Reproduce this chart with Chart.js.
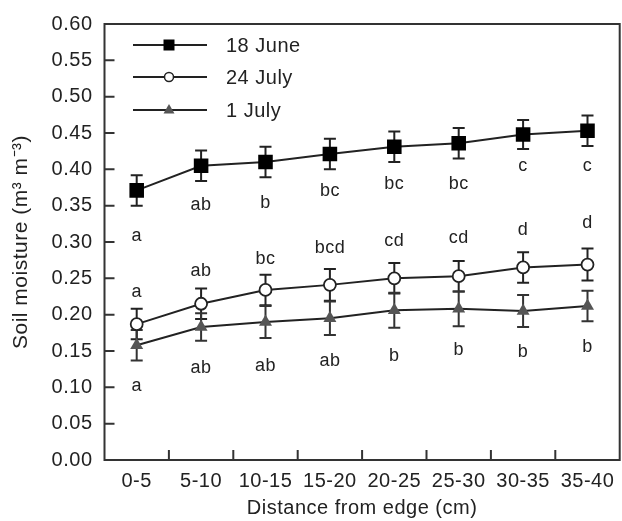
<!DOCTYPE html>
<html>
<head>
<meta charset="utf-8">
<script src="https://cdn.jsdelivr.net/npm/chart.js@4/dist/chart.umd.min.js"></script>
<style>
  html, body { margin: 0; padding: 0; background: #fff; overflow: hidden; }
  canvas { display: block; }
</style>
</head>
<body>
<canvas id="chart" width="630" height="521"></canvas>
<script>
// ---- data ----
const categories = ['0-5', '5-10', '10-15', '15-20', '20-25', '25-30', '30-35', '35-40'];

const june18    = [0.371, 0.405, 0.410, 0.421, 0.431, 0.436, 0.448, 0.453];
const june18Err = [0.021, 0.021, 0.021, 0.021, 0.021, 0.021, 0.020, 0.021];
const july24    = [0.187, 0.215, 0.234, 0.241, 0.250, 0.253, 0.265, 0.269];
const july24Err = [0.021, 0.021, 0.021, 0.022, 0.021, 0.021, 0.021, 0.022];
const july1     = [0.158, 0.183, 0.190, 0.195, 0.206, 0.208, 0.205, 0.212];
const july1Err  = [0.021, 0.019, 0.022, 0.023, 0.024, 0.024, 0.022, 0.021];

// significance letters and the height (in m3 m-3) where each is printed
const june18Letters  = ['a', 'ab', 'b', 'bc', 'bc', 'bc', 'c', 'c'];
const june18LetterY  = [0.308, 0.351, 0.353, 0.370, 0.380, 0.380, 0.404, 0.404];
const july24Letters  = ['a', 'ab', 'bc', 'bcd', 'cd', 'cd', 'd', 'd'];
const july24LetterY  = [0.231, 0.260, 0.276, 0.292, 0.302, 0.306, 0.316, 0.326];
const july1Letters   = ['a', 'ab', 'ab', 'ab', 'b', 'b', 'b', 'b'];
const july1LetterY   = [0.102, 0.126, 0.130, 0.136, 0.143, 0.151, 0.148, 0.155];

const INK = '#222';
const FONT = 'Liberation Sans, Arial, Helvetica, sans-serif';
const SPACING = '0.5px';

const series = [
  { label: '18 June', data: june18, err: june18Err, letters: june18Letters, letterY: june18LetterY,
    style: 'rect', radius: 10.3, fill: '#000', stroke: '#000' },
  { label: '24 July', data: july24, err: july24Err, letters: july24Letters, letterY: july24LetterY,
    style: 'circle', radius: 6, fill: '#fff', stroke: INK },
  { label: '1 July', data: july1, err: july1Err, letters: july1Letters, letterY: july1LetterY,
    style: 'triangle', radius: 7.5, fill: '#555', stroke: '#555' }
];

// canvas text a bit wider, like the original lettering
const spacing = {
  id: 'spacing',
  beforeLayout(chart) { chart.ctx.letterSpacing = SPACING; },
  beforeDraw(chart) { chart.ctx.letterSpacing = SPACING; }
};

// frame + inward tick marks
const frame = {
  id: 'frame',
  afterDraw(chart) {
    const { ctx, chartArea: a, scales: { x, y } } = chart;
    ctx.save();
    ctx.strokeStyle = '#333';
    ctx.lineWidth = 2;
    ctx.strokeRect(a.left, a.top, a.right - a.left, a.bottom - a.top);
    ctx.beginPath();
    y.ticks.forEach(t => {
      const py = y.getPixelForValue(t.value);
      ctx.moveTo(a.left, py);
      ctx.lineTo(a.left + 10, py);
    });
    for (let i = 1; i < categories.length; i++) {
      const px = (x.getPixelForValue(i - 1) + x.getPixelForValue(i)) / 2;
      ctx.moveTo(px, a.bottom);
      ctx.lineTo(px, a.bottom - 10);
    }
    ctx.stroke();
    ctx.restore();
  }
};

// error bars under the markers
const errorBars = {
  id: 'errorBars',
  beforeDatasetsDraw(chart) {
    const { ctx, scales: { x, y } } = chart;
    ctx.save();
    ctx.lineWidth = 2;
    series.forEach(s => {
      ctx.strokeStyle = s.style === 'triangle' ? '#333' : INK;
      s.data.forEach((v, i) => {
        const px = x.getPixelForValue(i);
        const top = y.getPixelForValue(v + s.err[i]);
        const bot = y.getPixelForValue(v - s.err[i]);
        ctx.beginPath();
        ctx.moveTo(px, top); ctx.lineTo(px, bot);
        ctx.moveTo(px - 6, top); ctx.lineTo(px + 6, top);
        ctx.moveTo(px - 6, bot); ctx.lineTo(px + 6, bot);
        ctx.stroke();
      });
    });
    ctx.restore();
  }
};

// letters + legend box
const annotations = {
  id: 'annotations',
  afterDatasetsDraw(chart) {
    const { ctx, scales: { x, y } } = chart;
    ctx.save();
    ctx.letterSpacing = SPACING;
    ctx.fillStyle = INK;
    ctx.textAlign = 'center';
    ctx.textBaseline = 'middle';
    ctx.font = '18px ' + FONT;
    series.forEach(s => {
      s.letters.forEach((t, i) => {
        ctx.fillText(t, x.getPixelForValue(i), y.getPixelForValue(s.letterY[i]));
      });
    });

    // legend
    const rows = [45, 77, 110];
    ctx.font = '20px ' + FONT;
    ctx.textAlign = 'left';
    series.forEach((s, k) => {
      const ly = rows[k];
      ctx.strokeStyle = INK;
      ctx.lineWidth = 2;
      ctx.beginPath();
      ctx.moveTo(133, ly); ctx.lineTo(207, ly);
      ctx.stroke();
      ctx.fillStyle = s.fill;
      ctx.strokeStyle = s.stroke;
      ctx.lineWidth = 1.5;
      ctx.beginPath();
      if (s.style === 'rect') {
        ctx.rect(169 - 5.5, ly - 5.5, 11, 11);
        ctx.fill();
      } else if (s.style === 'circle') {
        ctx.arc(169, ly, 4.5, 0, Math.PI * 2);
        ctx.fill(); ctx.stroke();
      } else {
        ctx.moveTo(169, ly - 6);
        ctx.lineTo(174.5, ly + 3.5);
        ctx.lineTo(163.5, ly + 3.5);
        ctx.closePath();
        ctx.fill();
      }
      ctx.fillStyle = INK;
      ctx.fillText(s.label, 226, ly + 1);
    });
    ctx.restore();
  }
};

const tickFont = { family: FONT, size: 20 };

new Chart(document.getElementById('chart'), {
  type: 'line',
  data: {
    labels: categories,
    datasets: series.map(s => ({
      label: s.label,
      data: s.data,
      borderColor: INK,
      borderWidth: 2,
      tension: 0,
      pointStyle: s.style,
      pointRadius: s.radius,
      pointBackgroundColor: s.fill,
      pointBorderColor: s.stroke,
      pointBorderWidth: s.style === 'circle' ? 1.8 : 0
    }))
  },
  options: {
    responsive: false,
    animation: false,
    layout: { padding: { top: 18, right: 3, left: 0, bottom: 0 } },
    plugins: { legend: { display: false }, tooltip: { enabled: false } },
    scales: {
      x: {
        offset: true,
        grid: { display: false, drawTicks: false },
        border: { display: false },
        ticks: { font: tickFont, color: INK, padding: 9, maxRotation: 0, autoSkip: false },
        title: { display: true, text: 'Distance from edge (cm)', font: tickFont, color: INK,
                 padding: { top: 0, bottom: 1 } },
        afterFit(s) { s.height = 61; }
      },
      y: {
        min: 0,
        max: 0.6,
        grid: { display: false, drawTicks: false },
        border: { display: false },
        ticks: { stepSize: 0.05, font: tickFont, color: INK, padding: 12,
                 callback: v => Number(v).toFixed(2) },
        title: { display: true, text: 'Soil moisture (m³ m⁻³)', font: { family: FONT, size: 21 },
                 color: INK, padding: { top: 9, bottom: 0 } },
        afterFit(s) { s.width = 104.5; }
      }
    }
  },
  plugins: [spacing, errorBars, annotations, frame]
});
</script>
</body>
</html>
